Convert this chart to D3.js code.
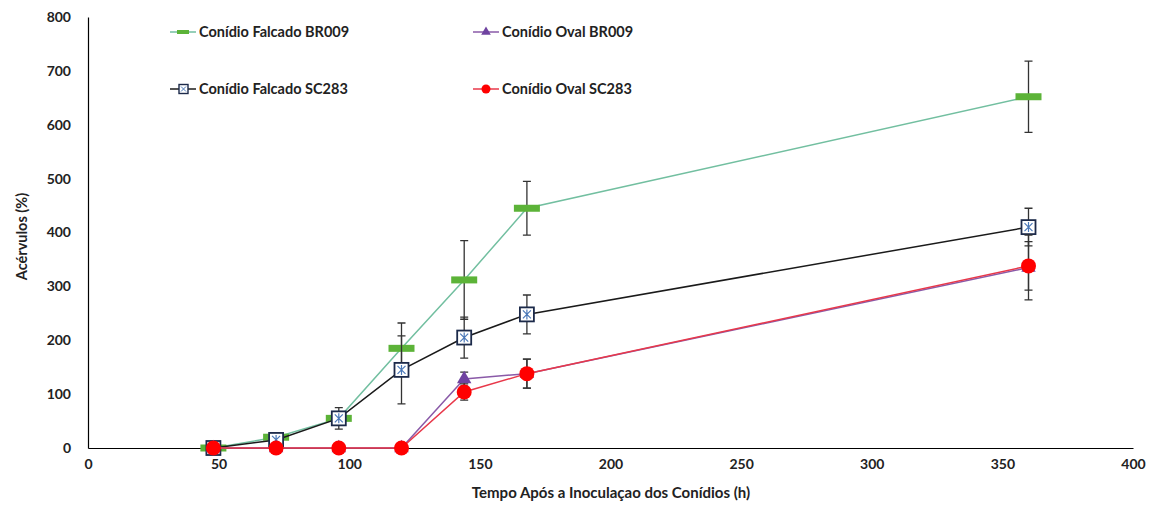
<!DOCTYPE html>
<html>
<head>
<meta charset="utf-8">
<script src="https://cdn.jsdelivr.net/npm/d3@7/dist/d3.min.js"></script>
<style>
  html, body { margin: 0; padding: 0; background: #fff; }
  svg { display: block; font-family: Lato, "Open Sans", sans-serif; }
</style>
</head>
<body>
<svg id="chart" width="1152" height="505"></svg>
<script>
// Hours after inoculation
const hours = [48, 72, 96, 120, 144, 168, 360];

// Acervulus counts (%) and error-bar half-widths per series
const falcadoBR009 = [0, 20, 55, 185, 312, 445, 652];
const falcadoBR009Err = [0, 0, 0, 47, 73, 50, 66];
const ovalBR009 = [0, 0, 0, 0, 128, 138, 335];
const ovalBR009Err = [0, 0, 0, 0, 13, 27, 60];
const falcadoSC283 = [0, 15, 55, 145, 205, 248, 410];
const falcadoSC283Err = [0, 6, 20, 63, 38, 36, 35];
const ovalSC283 = [0, 0, 0, 0, 104, 138, 338];
const ovalSC283Err = [0, 0, 0, 0, 15, 27, 45];

const xTicks = [0, 50, 100, 150, 200, 250, 300, 350, 400];
const yTicks = [0, 100, 200, 300, 400, 500, 600, 700, 800];

const seriesNames = ["Conídio Falcado BR009", "Conídio Oval BR009", "Conídio Falcado SC283", "Conídio Oval SC283"];

const svg = d3.select("#chart");
const x = d3.scaleLinear().domain([0, 400]).range([88, 1133]);
const y = d3.scaleLinear().domain([0, 800]).range([448, 17]);

const series = [
  { name: seriesNames[0], values: falcadoBR009, err: falcadoBR009Err, line: "#72bfa0", marker: "dash", fill: "#5cb338" },
  { name: seriesNames[2], values: falcadoSC283, err: falcadoSC283Err, line: "#1a1a1a", marker: "square", fill: "#ffffff" },
  { name: seriesNames[1], values: ovalBR009, err: ovalBR009Err, line: "#8a5aa8", marker: "triangle", fill: "#6f43a0" },
  { name: seriesNames[3], values: ovalSC283, err: ovalSC283Err, line: "#e8384a", marker: "circle", fill: "#ff0000" }
];

// Axes
const gx = svg.append("g").attr("transform", `translate(0,${y(0)})`)
  .call(d3.axisBottom(x).tickValues(xTicks).tickSize(0).tickPadding(11));
const gy = svg.append("g").attr("transform", `translate(${x(0)},0)`)
  .call(d3.axisLeft(y).tickValues(yTicks).tickSize(0).tickPadding(17));
[gx, gy].forEach(g => {
  g.select(".domain").attr("stroke", "#000").attr("stroke-width", 1.2);
  g.selectAll("text").attr("font-size", 14).attr("font-weight", "bold").attr("fill", "#222")
    .attr("font-family", "Lato, sans-serif");
});

svg.append("text").attr("x", 611).attr("y", 498).attr("text-anchor", "middle")
  .attr("font-size", 15).attr("font-weight", "bold").attr("fill", "#222")
  .text("Tempo Após a Inoculaçao dos Conídios  (h)");
svg.append("text").attr("transform", `translate(27,${y(400) + 4}) rotate(-90)`)
  .attr("text-anchor", "middle").attr("font-size", 14.5).attr("font-weight", "bold").attr("fill", "#222")
  .text("Acérvulos (%)");

// Marker drawing helper
function drawMarker(g, type, cx, cy, s) {
  if (type === "dash") {
    g.append("rect").attr("x", cx - 13).attr("y", cy - 3.5).attr("width", 26).attr("height", 7)
      .attr("fill", s.fill);
  } else if (type === "square") {
    g.append("rect").attr("x", cx - 7).attr("y", cy - 7).attr("width", 14).attr("height", 14)
      .attr("fill", "#fff").attr("stroke", "#1c2a4a").attr("stroke-width", 1.8);
    g.append("path").attr("d", `M${cx-4},${cy-4}L${cx+4},${cy+4}M${cx+4},${cy-4}L${cx-4},${cy+4}M${cx},${cy-5}L${cx},${cy+5}`)
      .attr("stroke", "#4a78b8").attr("stroke-width", 1.2);
  } else if (type === "triangle") {
    g.append("path").attr("d", d3.symbol().type(d3.symbolTriangle).size(90)())
      .attr("transform", `translate(${cx},${cy})`).attr("fill", s.fill);
  } else {
    g.append("circle").attr("cx", cx).attr("cy", cy).attr("r", 7.5).attr("fill", s.fill);
  }
}

const line = d3.line().x((d, i) => x(hours[i])).y(d => y(d));

series.forEach(s => {
  const g = svg.append("g");
  g.append("path").datum(s.values).attr("d", line).attr("fill", "none")
    .attr("stroke", s.line).attr("stroke-width", 1.5);
  // Error bars
  s.values.forEach((v, i) => {
    const e = s.err[i];
    if (!e) return;
    const cx = x(hours[i]);
    g.append("path")
      .attr("d", `M${cx},${y(v + e)}V${y(v - e)}M${cx-4},${y(v + e)}H${cx+4}M${cx-4},${y(v - e)}H${cx+4}`)
      .attr("stroke", "#333").attr("stroke-width", 1.3).attr("fill", "none");
  });
  s.values.forEach((v, i) => drawMarker(g, s.marker, x(hours[i]), y(v), s));
});

// Legend
const legendItems = [
  { s: series[0], lx: 170, ly: 32 },
  { s: series[2], lx: 473, ly: 32 },
  { s: series[1], lx: 170, ly: 89 },
  { s: series[3], lx: 473, ly: 89 }
];
legendItems.forEach(({ s, lx, ly }) => {
  const g = svg.append("g");
  g.append("line").attr("x1", lx).attr("x2", lx + 26).attr("y1", ly).attr("y2", ly)
    .attr("stroke", s.line).attr("stroke-width", 1.5);
  if (s.marker === "dash") {
    g.append("rect").attr("x", lx + 7).attr("y", ly - 2).attr("width", 12).attr("height", 4).attr("fill", s.fill);
  } else if (s.marker === "square") {
    g.append("rect").attr("x", lx + 9).attr("y", ly - 4.5).attr("width", 9).attr("height", 9)
      .attr("fill", "#fff").attr("stroke", "#1c2a4a").attr("stroke-width", 1.4);
    g.append("path").attr("d", `M${lx+11},${ly-2.5}L${lx+16},${ly+2.5}M${lx+16},${ly-2.5}L${lx+11},${ly+2.5}`)
      .attr("stroke", "#4a78b8").attr("stroke-width", 1);
  } else if (s.marker === "triangle") {
    g.append("path").attr("d", d3.symbol().type(d3.symbolTriangle).size(40)())
      .attr("transform", `translate(${lx + 13},${ly})`).attr("fill", s.fill);
  } else {
    g.append("circle").attr("cx", lx + 13).attr("cy", ly).attr("r", 4.5).attr("fill", s.fill);
  }
  g.append("text").attr("x", lx + 29).attr("y", ly + 5).attr("font-size", 14.5)
    .attr("font-weight", "bold").attr("fill", "#222").text(s.name);
});
</script>
</body>
</html>
